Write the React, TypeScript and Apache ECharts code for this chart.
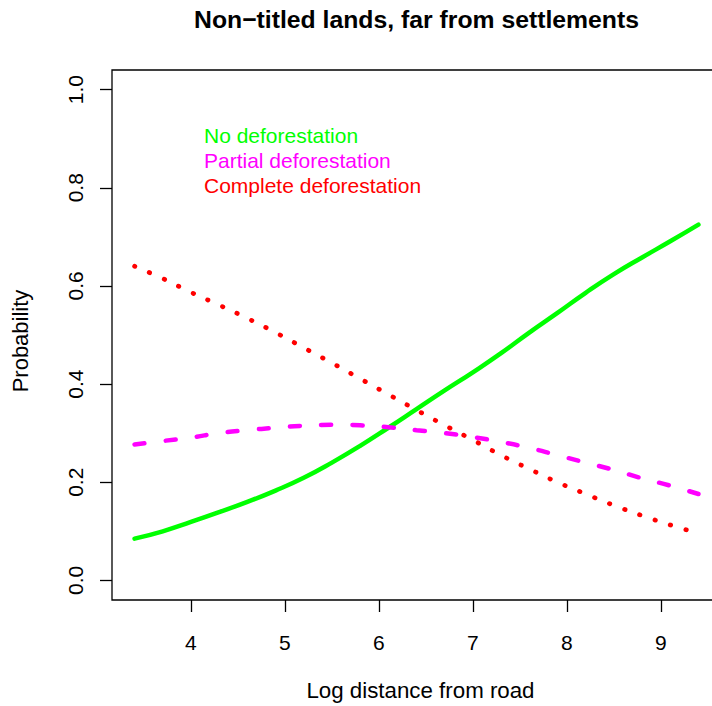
import React, { useEffect, useRef } from "react";
import * as echarts from "echarts";

// Log distance from road (x) and predicted probabilities for each outcome
const logDistance = [3.4, 3.7, 4.0, 4.3, 4.6, 4.9, 5.2, 5.5, 5.8, 6.1, 6.4, 6.7, 7.0, 7.3, 7.6, 7.9, 8.2, 8.5, 8.8, 9.1, 9.4];
const noDeforestation = [0.085, 0.1, 0.119, 0.139, 0.16, 0.183, 0.209, 0.24, 0.274, 0.311, 0.349, 0.387, 0.424, 0.463, 0.505, 0.545, 0.586, 0.624, 0.658, 0.691, 0.725];
const partialDeforestation = [0.277, 0.284, 0.291, 0.3, 0.306, 0.311, 0.315, 0.317, 0.316, 0.312, 0.306, 0.3, 0.292, 0.282, 0.27, 0.255, 0.24, 0.225, 0.208, 0.193, 0.176];
const completeDeforestation = [0.64, 0.615, 0.587, 0.561, 0.534, 0.505, 0.474, 0.443, 0.411, 0.379, 0.347, 0.316, 0.286, 0.255, 0.227, 0.2, 0.176, 0.153, 0.132, 0.113, 0.096];

const xTicks = [4, 5, 6, 7, 8, 9];
const yTicks = [0, 0.2, 0.4, 0.6, 0.8, 1.0];

const seriesNames = ["No deforestation", "Partial deforestation", "Complete deforestation"];
const seriesColors = ["#00ff00", "#ff00ff", "#ff0000"];

const FONT = "'Liberation Sans', Arial, Helvetica, sans-serif";

const pairs = (ys: number[]) => logDistance.map((x, i) => [x, ys[i]]);

export default function App() {
  const ref = useRef<HTMLDivElement>(null);

  useEffect(() => {
    if (!ref.current) return;
    const chart = echarts.init(ref.current, null, { renderer: "svg" });
    chart.setOption({
      animation: false,
      backgroundColor: "#ffffff",
      textStyle: { fontFamily: FONT },
      title: {
        text: "Non\u2212titled lands, far from settlements",
        left: 416.5,
        top: 7,
        textAlign: "center",
        padding: 0,
        textStyle: { fontFamily: FONT, fontWeight: "bold", fontSize: 24.75, color: "#000" },
      },
      legend: {
        orient: "vertical",
        left: 199,
        top: 123,
        itemGap: 0,
        itemWidth: 0,
        itemHeight: 10,
        icon: "none",
        selectedMode: false,
        padding: 0,
        data: seriesNames.map((n, i) => ({
          name: n,
          icon: "none",
          textStyle: { color: seriesColors[i], fontSize: 21, fontFamily: FONT, lineHeight: 25 },
        })),
      },
      grid: {
        left: 112,
        top: 70,
        width: 609,
        height: 532,
        show: true,
        borderColor: "#000",
        borderWidth: 1.3,
        backgroundColor: "transparent",
      },
      xAxis: {
        type: "value",
        min: 3.16,
        max: 9.64,
        name: "Log distance from road",
        nameLocation: "middle",
        nameGap: 79,
        nameTextStyle: { fontFamily: FONT, fontSize: 22.3, color: "#000", padding: [0, 0, 0, 8] },
        axisLine: { show: false, onZero: false },
        splitLine: { show: false },
        axisTick: {
          show: true,
          inside: false,
          length: 12,
          customValues: xTicks,
          lineStyle: { color: "#000", width: 1.3 },
        },
        axisLabel: {
          customValues: xTicks,
          margin: 32,
          fontSize: 21,
          fontFamily: FONT,
          color: "#000",
          formatter: (v: number) => String(v),
        },
      },
      yAxis: {
        type: "value",
        min: -0.04,
        max: 1.04,
        name: "Probability",
        nameLocation: "middle",
        nameGap: 81,
        nameRotate: 90,
        nameTextStyle: { fontFamily: FONT, fontSize: 22, color: "#000", padding: [0, 12, 0, 0] },
        axisLine: { show: false, onZero: false },
        splitLine: { show: false },
        axisTick: {
          show: true,
          inside: false,
          length: 12,
          customValues: yTicks,
          lineStyle: { color: "#000", width: 1.3 },
        },
        axisLabel: {
          customValues: yTicks,
          rotate: 90,
          margin: 26,
          fontSize: 21,
          fontFamily: FONT,
          color: "#000",
          formatter: (v: number) => v.toFixed(1),
        },
      },
      series: [
        {
          name: seriesNames[0],
          type: "line",
          data: pairs(noDeforestation),
          smooth: true,
          showSymbol: false,
          color: seriesColors[0],
          lineStyle: { color: seriesColors[0], width: 4.5, cap: "round" },
        },
        {
          name: seriesNames[1],
          type: "line",
          data: pairs(partialDeforestation),
          smooth: true,
          showSymbol: false,
          color: seriesColors[1],
          lineStyle: { color: seriesColors[1], width: 4.5, type: [10, 21.3], cap: "round" },
        },
        {
          name: seriesNames[2],
          type: "line",
          data: pairs(completeDeforestation),
          smooth: true,
          showSymbol: false,
          color: seriesColors[2],
          lineStyle: { color: seriesColors[2], width: 4.7, type: [0.5, 15.6], cap: "round" },
        },
      ],
    });
    return () => chart.dispose();
  }, []);

  // The plotting frame runs past the right edge of the view, so the chart is
  // drawn wider than the visible area and clipped by the wrapper.
  return (
    <div
      style={{
        position: "fixed",
        left: 0,
        top: 0,
        width: 712,
        height: 706,
        overflow: "hidden",
        background: "#fff",
      }}
    >
      <div ref={ref} style={{ width: 730, height: 706 }} />
    </div>
  );
}
